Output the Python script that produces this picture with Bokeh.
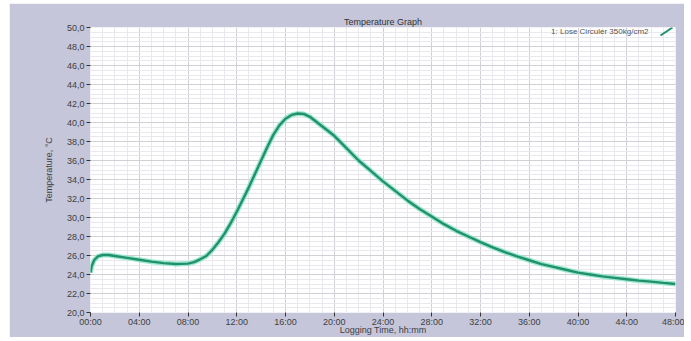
from bokeh.plotting import figure
from bokeh.models import FixedTicker, Label, Arrow, Range1d, Spacer
from bokeh.layouts import row, column
from bokeh.embed import file_html
from bokeh.resources import INLINE

# ---- data ----
time_h = [0.0, 0.1, 0.3, 0.6, 1.0, 1.5, 2.0, 3.0, 4.0, 5.0, 6.0, 7.0, 8.0, 8.5, 9.0,
          9.5, 10.0, 10.5, 11.0, 11.5, 12.0, 12.5, 13.0, 13.5, 14.0, 14.5, 15.0, 15.5,
          16.0, 16.5, 17.0, 17.5, 18.0, 18.5, 19.0, 19.5, 20.0, 21.0, 22.0, 23.0, 24.0,
          25.0, 26.0, 27.0, 28.0, 29.0, 30.0, 31.0, 32.0, 33.0, 34.0, 35.0, 36.0, 37.0,
          38.0, 39.0, 40.0, 41.0, 42.0, 43.0, 44.0, 45.0, 46.0, 47.0, 48.0]
temp_c = [24.2, 24.9, 25.5, 25.9, 26.05, 26.05, 25.95, 25.75, 25.55, 25.35, 25.2, 25.1,
          25.15, 25.3, 25.6, 25.95, 26.6, 27.4, 28.3, 29.4, 30.6, 31.9, 33.2, 34.6, 36.0,
          37.4, 38.7, 39.7, 40.4, 40.8, 40.95, 40.9, 40.6, 40.1, 39.6, 39.1, 38.6, 37.3,
          36.0, 34.9, 33.8, 32.8, 31.8, 30.9, 30.1, 29.3, 28.6, 28.0, 27.4, 26.85, 26.35,
          25.9, 25.5, 25.1, 24.8, 24.5, 24.2, 24.0, 23.8, 23.65, 23.5, 23.35, 23.25,
          23.12, 23.0]

x_ticks = [0, 4, 8, 12, 16, 20, 24, 28, 32, 36, 40, 44, 48]
x_tick_labels = ["00:00", "04:00", "08:00", "12:00", "16:00", "20:00", "24:00",
                 "28:00", "32:00", "36:00", "40:00", "44:00", "48:00"]
y_ticks = [20, 22, 24, 26, 28, 30, 32, 34, 36, 38, 40, 42, 44, 46, 48, 50]
y_tick_labels = ["20,0", "22,0", "24,0", "26,0", "28,0", "30,0", "32,0", "34,0",
                 "36,0", "38,0", "40,0", "42,0", "44,0", "46,0", "48,0", "50,0"]
series_name = "1: Lose Circuler 350kg/cm2"
x_title = "Logging Time, hh:mm"
y_title = "Temperature, °C"

FONT = "Liberation Sans"
PANEL = "#c5c6da"

p = figure(width=675, height=334, output_backend="svg", toolbar_location=None,
           x_range=Range1d(0, 48), y_range=Range1d(20, 50),
           title="Temperature Graph",
           min_border_left=81, min_border_right=9, min_border_top=24,
           min_border_bottom=25)
p.border_fill_color = PANEL
p.background_fill_color = "white"
p.outline_line_color = None

p.title.align = "center"
p.title.text_font = FONT
p.title.text_font_size = "9px"
p.title.text_font_style = "normal"
p.title.text_color = "#333333"
p.title.standoff = 2
p.title.offset = 0

x_minor = [i * 1.0 for i in range(0, 49)]
y_minor = [20 + i * 0.5 for i in range(0, 61)]
p.xaxis.ticker = FixedTicker(ticks=x_ticks, minor_ticks=x_minor)
p.yaxis.ticker = FixedTicker(ticks=y_ticks, minor_ticks=y_minor)
p.xaxis.major_label_overrides = dict(zip(x_ticks, x_tick_labels))
p.yaxis.major_label_overrides = dict(zip(y_ticks, y_tick_labels))

for ax in (p.xaxis, p.yaxis):
    ax.axis_line_color = None
    ax.major_tick_line_color = "#333333"
    ax.major_tick_out = 4
    ax.major_tick_in = 0
    ax.minor_tick_line_color = None
    ax.major_label_text_font = FONT
    ax.major_label_text_font_size = "9px"
    ax.major_label_text_color = "#404040"
    ax.axis_label_text_font = FONT
    ax.axis_label_text_font_size = "9px"
    ax.axis_label_text_font_style = "normal"
    ax.axis_label_text_color = "#404040"

p.yaxis.major_label_standoff = 2
p.yaxis.axis_label_standoff = 10
p.xaxis.major_label_standoff = 0
p.xaxis.axis_label_standoff = -5
p.xaxis.axis_label = x_title
p.yaxis.axis_label = y_title

p.xgrid.grid_line_color = "#d0d0d6"
p.ygrid.grid_line_color = "#d0d0d6"
p.xgrid.minor_grid_line_color = "#e8e8ee"
p.ygrid.minor_grid_line_color = "#e8e8ee"

p.line(time_h, temp_c, line_color="#8ee6c8", line_width=5, line_alpha=0.9)
p.line(time_h, temp_c, line_color="#23906c", line_width=2.4)

# legend
p.add_layout(Label(x=558, y=281, x_units="screen", y_units="screen",
                   text=series_name, text_font=FONT, text_font_size="8px",
                   text_color="#555555", text_align="right", text_baseline="middle"))
p.add_layout(Arrow(end=None, x_start=570, y_start=277, x_end=582, y_end=285,
                   start_units="screen", end_units="screen",
                   line_color="#23906c", line_width=2))

layout = row(Spacer(width=9), column(Spacer(height=3), p))
open("out.html", "w").write(file_html(layout, INLINE))
